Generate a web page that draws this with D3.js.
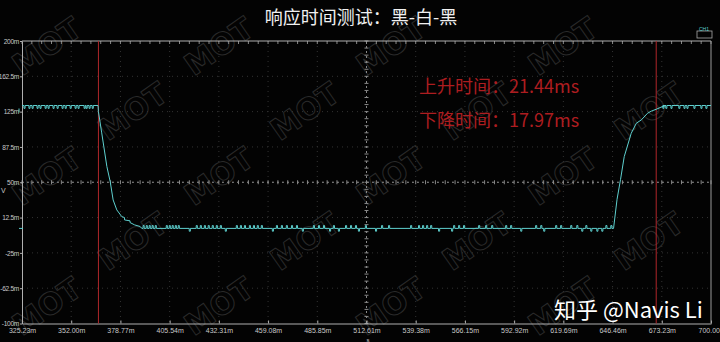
<!DOCTYPE html>
<html>
<head>
<meta charset="utf-8">
<script src="https://cdn.jsdelivr.net/npm/d3@7"></script>
<style>
  html, body { margin: 0; padding: 0; background: #000; }
  svg { display: block; }
</style>
</head>
<body>
<script>
// axis ticks (ms on x, mV on y)
const xTicks = [325.23, 352.00, 378.77, 405.54, 432.31, 459.08, 485.85, 512.61, 539.38, 566.15, 592.92, 619.69, 646.46, 673.23, 700.00];
const xTickLabels = ["325.23m", "352.00m", "378.77m", "405.54m", "432.31m", "459.08m", "485.85m", "512.61m", "539.38m", "566.15m", "592.92m", "619.69m", "646.46m", "673.23m", "700.00"];
const yTicks = [200, 162.5, 125, 87.5, 50, 12.5, -25, -62.5, -100];
const yTickLabels = ["200m", "162.5m", "125m", "87.5m", "50m", "12.5m", "-25m", "-62.5m", "-100m"];

// levels (mV)
const highLevel = 131.5;
const lowLevel = 1;
const highGlitch = 128.5;
const lowUp = 4;
const lowDown = -2;

// cursors (ms)
const cursors = [366.8, 670.2];

// falling edge
const fallT = [366.6, 366.8, 368.6, 371.4, 373.2, 374.8, 376.8, 379.5, 381.0, 381.0, 384.0, 384.0, 386.5, 389.5, 390.4];
const fallV = [131.5, 125, 102.4, 66.6, 50.7, 31.2, 20.6, 13.5, 12.5, 10, 9, 7.2, 4.7, 3.0, 1];

// rising edge
const riseT = [647.0, 648.9, 650.8, 652.8, 656.6, 659.4, 662.1, 665.5, 667.5, 670.2, 672.8, 675.5];
const riseV = [1, 31.9, 53.1, 77.2, 102, 112.7, 116.2, 123.3, 125.5, 127.5, 129.7, 131.5];

// noise spikes on the flat parts (ms)
const highLeftGlitch = [326.3, 329.0, 330.7, 333.4, 335.0, 337.8, 339.4, 342.1, 344.3, 347.0, 348.7, 351.4, 354.1, 355.7, 359.0, 360.1, 361.7, 363.4];
const highRightGlitch = [673.8, 675.4, 678.2, 682.5, 685.3, 686.9, 690.7, 694.5, 697.2];
const lowUpGlitch = [391.1, 392.8, 394.4, 396.0, 397.7, 403.7, 405.3, 406.9, 408.6, 410.2, 420.0, 422.2, 424.4, 426.5, 428.7, 430.9, 433.1,
  441.8, 444.0, 446.2, 448.9, 451.1, 453.2, 455.4, 463.6, 466.3, 469.0, 471.8, 474.5, 483.7, 486.5, 489.2, 494.6, 501.2, 503.9, 506.6, 512.0,
  520.8, 524.6, 536.6, 540.9, 543.1, 545.3, 547.5, 560.0, 562.7, 565.4, 573.6, 577.4, 580.7, 588.3, 591.0, 604.6, 607.4, 615.5, 618.2,
  623.7, 627.0, 631.9, 642.8, 645.5];
const lowDownGlitch = [416.2, 435.8, 461.4, 477.7, 492.5, 497.3, 508.2, 517.5, 551.8, 558.9, 596.5, 609.0, 629.7, 634.6, 637.9, 640.6];

const W = 720, H = 342;
const svg = d3.select("body").append("svg").attr("width", W).attr("height", H);

svg.append("rect").attr("width", W).attr("height", H).attr("fill", "#030303");

// MOT watermark (outlined text), kept inside the frame
const wm = svg.append("g");
for (let r = 0; r < 5; r++) {
  for (let c = 0; c < 4; c++) {
    const cx = c * 172 + (r % 2 === 0 ? 48 : 134);
    const cy = r * 65 + 48;
    if (cx > 680) continue;
    wm.append("text")
      .attr("transform", `translate(${cx},${cy}) rotate(-35)`)
      .attr("text-anchor", "middle")
      .attr("dominant-baseline", "middle")
      .attr("font-family", "DejaVu Sans")
      .attr("font-weight", "bold")
      .attr("font-size", 30)
      .attr("fill", "none")
      .attr("stroke", "#2a2a2a")
      .attr("stroke-width", 1)
      .text("MOT");
  }
}

const x = d3.scaleLinear().domain([325.23, 700]).range([22, 711]);
const y = d3.scaleLinear().domain([-100, 200]).range([323.5, 41]);

// faint dotted grid
const grid = svg.append("g").attr("stroke", "#333").attr("stroke-dasharray", "1,4");
grid.selectAll("line.v").data(xTicks.slice(1, -1)).enter().append("line")
  .attr("x1", d => x(d)).attr("x2", d => x(d)).attr("y1", 41).attr("y2", 323.5);
grid.selectAll("line.h").data(yTicks.slice(1, -1)).enter().append("line")
  .attr("y1", d => y(d)).attr("y2", d => y(d)).attr("x1", 22).attr("x2", 711);

// center cross with minor ticks
const mid = svg.append("g").attr("stroke", "#8a8a8a");
mid.append("line").attr("x1", 22).attr("x2", 711).attr("y1", y(50)).attr("y2", y(50))
  .attr("stroke-dasharray", "2,3");
mid.append("line").attr("x1", x(512.61)).attr("x2", x(512.61)).attr("y1", 41).attr("y2", 323.5)
  .attr("stroke-dasharray", "2,3");
const minorX = d3.range(0, 71).map(i => 325.23 + i * (700 - 325.23) / 70);
const minorY = d3.range(0, 41).map(i => -100 + i * 7.5);
mid.selectAll("line.mx").data(minorX).enter().append("line")
  .attr("x1", d => x(d)).attr("x2", d => x(d)).attr("y1", y(50) - 2).attr("y2", y(50) + 2);
mid.selectAll("line.my").data(minorY).enter().append("line")
  .attr("y1", d => y(d)).attr("y2", d => y(d)).attr("x1", x(512.61) - 2).attr("x2", x(512.61) + 2);
mid.selectAll("line.tx").data(minorX).enter().append("line")
  .attr("x1", d => x(d)).attr("x2", d => x(d)).attr("y1", 41).attr("y2", 44);

// axes
const xAxis = svg.append("g").attr("transform", "translate(0,323.5)")
  .call(d3.axisBottom(x).tickValues(xTicks).tickFormat((d, i) => xTickLabels[i]).tickSizeInner(3).tickSizeOuter(0));
const yAxis = svg.append("g").attr("transform", "translate(22,0)")
  .call(d3.axisLeft(y).tickValues(yTicks).tickFormat((d, i) => yTickLabels[i]).tickSizeInner(2).tickSizeOuter(0).tickPadding(1));
[xAxis, yAxis].forEach(a => {
  a.select(".domain").attr("stroke", "#b0b0b0");
  a.selectAll(".tick line").attr("stroke", "#b0b0b0");
  a.selectAll("text").attr("fill", "#c8c8c8").attr("font-family", "Liberation Sans").attr("font-size", 7);
});
xAxis.selectAll(".tick line").attr("y2", -3);
xAxis.selectAll("text").attr("y", 9.5).attr("dy", null);
// last label sits against the right edge
xAxis.selectAll(".tick text").filter((d, i) => i === xTicks.length - 1)
  .attr("text-anchor", "end").attr("x", 8.5);
yAxis.selectAll("text").attr("font-size", 6.6).attr("letter-spacing", -0.3);
svg.append("line").attr("x1", 22).attr("x2", 711).attr("y1", 41).attr("y2", 41).attr("stroke", "#b0b0b0");
svg.append("line").attr("x1", 711).attr("x2", 711).attr("y1", 41).attr("y2", 323.5).attr("stroke", "#9a9a9a");

svg.append("text").attr("x", 368).attr("y", 341.5).attr("text-anchor", "middle")
  .attr("fill", "#c8c8c8").attr("font-family", "Liberation Sans").attr("font-size", 6).text("s");
svg.append("text").attr("x", 1).attr("y", 193).attr("fill", "#c8c8c8")
  .attr("font-family", "Liberation Sans").attr("font-size", 7).text("V");

// cursors
svg.selectAll("line.cur").data(cursors).enter().append("line")
  .attr("x1", d => x(d)).attr("x2", d => x(d)).attr("y1", 41).attr("y2", 323.5)
  .attr("stroke", "#b0272b").attr("stroke-width", 1);

// build trace
function flat(t0, t1, base, spikes) {
  const pts = [[t0, base]];
  spikes.slice().sort((a, b) => a[0] - b[0]).forEach(([t, v]) => {
    pts.push([t, base], [t, v], [t + 0.6, v], [t + 0.6, base]);
  });
  pts.push([t1, base]);
  return pts;
}
const lowSpikes = lowUpGlitch.map(t => [t, lowUp]).concat(lowDownGlitch.map(t => [t, lowDown]));
const trace = []
  .concat(flat(325.23, fallT[0], highLevel, highLeftGlitch.map(t => [t, highGlitch])))
  .concat(fallT.map((t, i) => [t, fallV[i]]))
  .concat(flat(fallT[fallT.length - 1], riseT[0], lowLevel, lowSpikes))
  .concat(riseT.map((t, i) => [t, riseV[i]]))
  .concat(flat(riseT[riseT.length - 1], 700, highLevel, highRightGlitch.map(t => [t, highGlitch])));

svg.append("path").datum(trace)
  .attr("d", d3.line().x(d => x(d[0])).y(d => y(d[1])))
  .attr("fill", "none").attr("stroke", "#5ed0cf").attr("stroke-width", 1);

// channel markers
svg.append("path").attr("d", `M19,${y(highLevel) + 3}L19,${y(highLevel) + 7}`).attr("stroke", "#5ed0cf");
svg.append("line").attr("x1", 19).attr("x2", 23).attr("y1", y(lowLevel)).attr("y2", y(lowLevel))
  .attr("stroke", "#5ed0cf");
svg.append("rect").attr("x", 697).attr("y", 31).attr("width", 15).attr("height", 7)
  .attr("fill", "none").attr("stroke", "#aaa").attr("stroke-width", 0.8);
svg.append("text").attr("x", 699).attr("y", 30.5).attr("fill", "#5ed0cf")
  .attr("font-family", "Liberation Sans").attr("font-size", 5).text("CH1");

// title and annotations
svg.append("text").attr("x", 361).attr("y", 24).attr("text-anchor", "middle")
  .attr("fill", "#f0f0f0").attr("font-family", "Noto Sans CJK SC").attr("font-size", 18)
  .text("响应时间测试：黑-白-黑");
svg.append("text").attr("x", 419).attr("y", 93).attr("fill", "#ad1d20")
  .attr("font-family", "Noto Sans CJK SC").attr("font-size", 18).text("上升时间：21.44ms");
svg.append("text").attr("x", 419).attr("y", 127).attr("fill", "#ad1d20")
  .attr("font-family", "Noto Sans CJK SC").attr("font-size", 18).text("下降时间：17.97ms");
svg.append("text").attr("x", 554).attr("y", 318).attr("fill", "#ffffff")
  .attr("font-family", "Noto Sans CJK SC").attr("font-size", 22).text("知乎 @Navis Li");
</script>
</body>
</html>
